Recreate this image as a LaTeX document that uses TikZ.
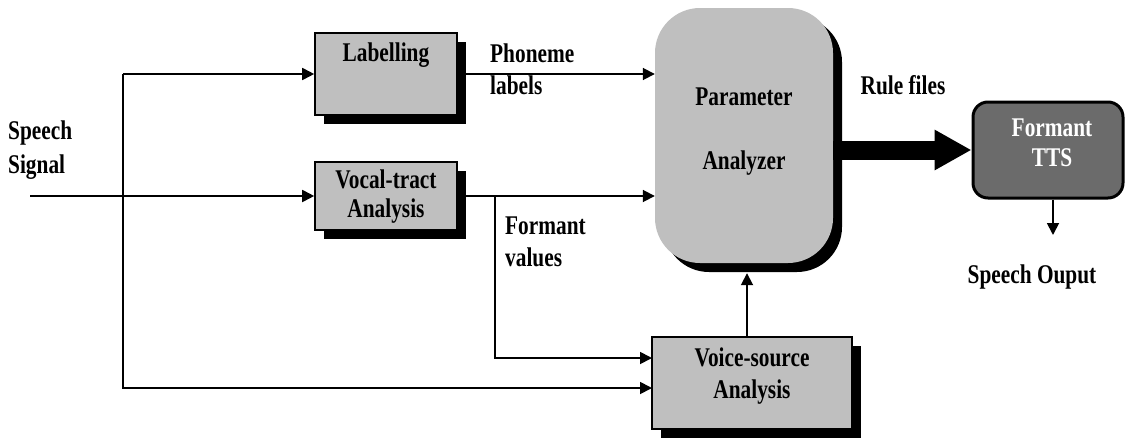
\documentclass[tikz,border=0pt]{standalone}
\usepackage{fontspec}
\setmainfont{Liberation Serif}[FakeStretch=0.79]
\usetikzlibrary{arrows.meta,shadows,calc}
\begin{document}
\begin{tikzpicture}[x=1pt,y=-1pt,
  lbl/.style={font=\fontsize{27}{32}\selectfont\bfseries, inner sep=0pt, align=center},
  blkshadow/.style={drop shadow={shadow xshift=9pt, shadow yshift=-9pt, fill=black, opacity=1}},
  box/.style={draw=black, line width=1.6pt, fill=black!25, inner sep=0pt, blkshadow},
  pastyle/.style={fill=black!25, inner sep=0pt, rounded corners=45pt, blkshadow},
  ftstyle/.style={draw=black, line width=3pt, fill=black!58, inner sep=0pt, rounded corners=15pt},
  conn/.style={line width=1.8pt, -{Triangle[length=12pt,width=12pt]}},
  thickarr/.style={line width=19pt, -{Triangle[length=37pt,width=38pt]}}]
\useasboundingbox (0,0) rectangle (1125,439);

% boxes
\node[box, minimum width=142pt, minimum height=82pt] (lab) at (386,74) {};
\node[lbl] (labt) at (386,55) {Labelling};
\node[box, minimum width=142pt, minimum height=68pt] (vt) at (386,196) {};
\node[lbl] (vtt) at (386,197) {Vocal-tract\\[-3pt]Analysis};
\node[box, minimum width=200pt, minimum height=92pt] (vs) at (752,383) {};
\node[lbl] (vst) at (752,376) {Voice-source\\Analysis};
\node[pastyle, minimum width=178pt, minimum height=255pt] (pa) at (744,135.5) {};
\node[lbl] (pat1) at (744,97) {Parameter};
\node[lbl] (pat2) at (744,163) {Analyzer};
\node[ftstyle, minimum width=150pt, minimum height=96pt] (ft) at (1048,150) {};
\node[lbl, text=white] (ftt) at (1052,143) {Formant\\[-2pt]TTS};

% free labels
\node[lbl, anchor=west, align=left] (sig) at (8,150) {Speech\\[2pt]Signal};
\node[lbl, anchor=west, align=left] (phl) at (490,69) {Phoneme\\labels};
\node[lbl, anchor=west, align=left] (fvl) at (505,242) {Formant\\values};
\node[lbl] (rfl) at (903,85) {Rule files};
\node[lbl] (sol) at (1032,277) {Speech Ouput};

% coordinates
\coordinate (sin) at (30,196);
\coordinate (j1) at (123,196);
\coordinate (j2) at (495,196);
\coordinate (vsin1) at (652,358);
\coordinate (vsin2) at (652,388);
\coordinate (pash) at ([yshift=-10pt]pa.south);
\coordinate (vsup) at ([xshift=-5pt]vs.north);
\coordinate (out) at (1053,235);

% connectors
\draw[conn] (sin) -- (vt.west);
\draw[conn] (j1 |- lab.west) -- (lab.west);
\draw[conn] (j1 |- lab.west) -- (j1 |- vsin2) -- (vsin2);
\draw[conn] (lab.east) -- (lab.east -| pa.west);
\draw[conn] (vt.east) -- (vt.east -| pa.west);
\draw[conn] (j2) -- (j2 |- vsin1) -- (vsin1);
\draw[conn] (vsup) -- (vsup |- pash);
\draw[thickarr] (pa.east |- ft.west) -- (ft.west);
\draw[conn] (ft.south -| out) -- (out);
\end{tikzpicture}
\end{document}
